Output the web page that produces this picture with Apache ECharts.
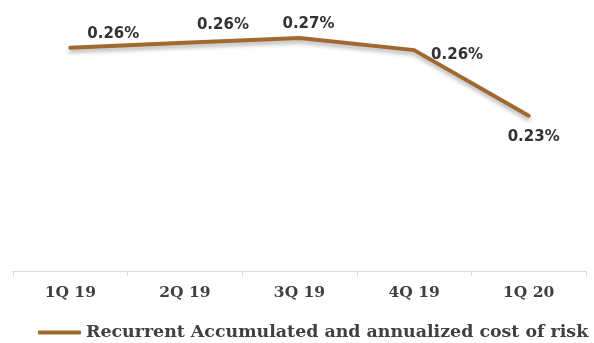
<!DOCTYPE html>
<html>
<head>
<meta charset="utf-8">
<script src="https://cdn.jsdelivr.net/npm/echarts@6/dist/echarts.min.js"></script>
<style>
  html, body { margin: 0; padding: 0; background: #ffffff; }
  #chart { width: 594px; height: 343px; }
</style>
</head>
<body>
<div id="chart"></div>
<script>
// Quarterly recurrent cost of risk (accumulated, annualized), in percent
const quarters = ['1Q 19', '2Q 19', '3Q 19', '4Q 19', '1Q 20'];
const costOfRisk = [0.262, 0.264, 0.266, 0.261, 0.234];
const seriesName = 'Recurrent Accumulated and annualized cost of risk';

// per-point label placement around the line
const labelOffsets = [[43, -1], [38, -5], [9, -1], [43, 17], [5, 34]];

const lineColor = '#A0692F';
const textColor = '#404040';

const chart = echarts.init(document.getElementById('chart'), null, { renderer: 'canvas' });

chart.setOption({
  animation: false,
  grid: { left: 13, right: 8, top: 4, bottom: 72 },
  legend: {
    bottom: 2,
    left: 38,
    padding: 0,
    itemWidth: 43,
    itemHeight: 4,
    itemGap: 0,
    textStyle: { fontFamily: 'DejaVu Serif', fontWeight: 'bold', fontSize: 17.4, color: textColor },
    data: [{ name: seriesName, icon: 'roundRect' }]
  },
  xAxis: {
    type: 'category',
    data: quarters,
    boundaryGap: true,
    axisLine: { lineStyle: { color: '#d9d9d9', width: 1 } },
    axisTick: { show: true, length: 5, lineStyle: { color: '#d9d9d9' } },
    axisLabel: {
      margin: 14,
      fontFamily: 'DejaVu Serif',
      fontWeight: 'bold',
      fontSize: 15.5,
      color: textColor
    }
  },
  yAxis: {
    type: 'value',
    min: 0.17,
    max: 0.28,
    show: false,
    splitLine: { show: false }
  },
  series: [{
    name: seriesName,
    type: 'line',
    data: costOfRisk.map((v, i) => ({
      value: v,
      label: { offset: labelOffsets[i] }
    })),
    symbol: 'circle',
    symbolSize: 0,
    showSymbol: true,
    lineStyle: {
      color: lineColor,
      width: 4,
      cap: 'round',
      join: 'miter',
      shadowColor: 'rgba(0,0,0,0.3)',
      shadowBlur: 4,
      shadowOffsetY: 3
    },
    itemStyle: { color: lineColor },
    label: {
      show: true,
      position: 'top',
      distance: 5,
      fontFamily: 'DejaVu Sans',
      fontWeight: 'bold',
      fontSize: 15,
      color: '#333333',
      formatter: p => p.value.toFixed(2) + '%'
    }
  }]
});
</script>
</body>
</html>
